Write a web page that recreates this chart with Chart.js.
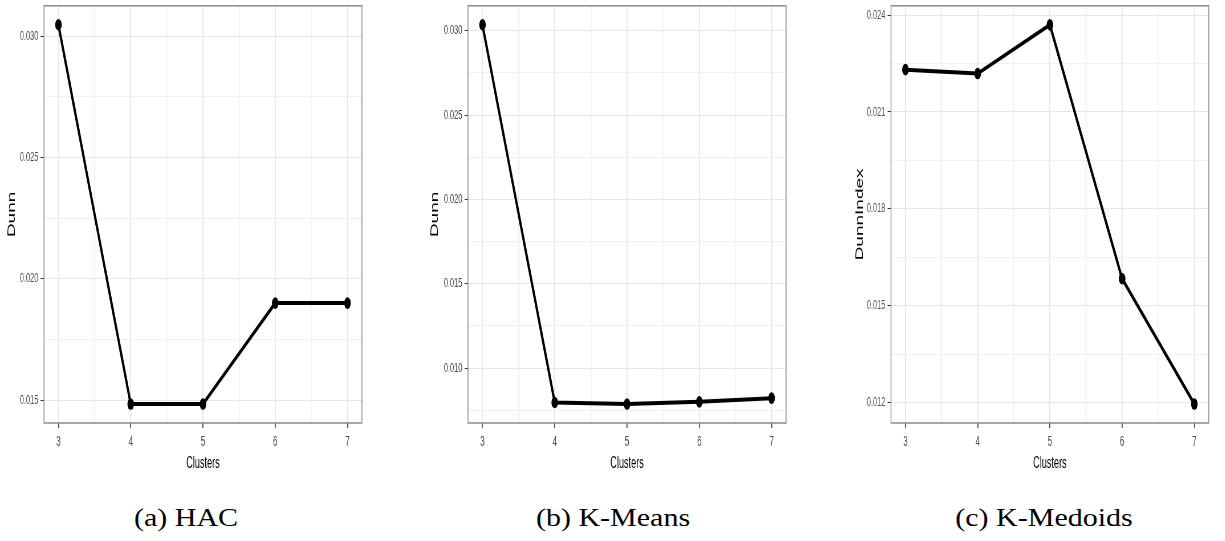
<!DOCTYPE html>
<html>
<head>
<meta charset="utf-8">
<script src="https://cdn.jsdelivr.net/npm/chart.js@4.4.1/dist/chart.umd.min.js"></script>
<style>
  html, body { margin: 0; padding: 0; background: #ffffff; }
  body { width: 1225px; height: 541px; position: relative; overflow: hidden; }
  .panel { position: absolute; top: 0; height: 480px; transform-origin: 0 0; }
  .panel canvas { display: block; }
  .caption {
    position: absolute; top: 504px; white-space: nowrap;
    font-family: "Liberation Serif", "DejaVu Serif", serif; font-size: 25px; color: #000;
    transform: translateX(-50%) scaleX(1.2);
  }
</style>
</head>
<body>
<div class="panel" id="pa"><canvas id="ca"></canvas></div>
<div class="panel" id="pb"><canvas id="cb"></canvas></div>
<div class="panel" id="pc"><canvas id="cc"></canvas></div>
<div class="caption" style="left:186px">(a) HAC</div>
<div class="caption" style="left:613px">(b) K-Means</div>
<div class="caption" style="left:1044px">(c) K-Medoids</div>
<script>
// Number of clusters (x axis)
const categories = [3, 4, 5, 6, 7];
const xMinorTicks = [3.5, 4.5, 5.5, 6.5];

// Dunn index per number of clusters
const hacDunn      = [0.03047, 0.01484, 0.01484, 0.0190, 0.0190];
const kmeansDunn   = [0.03035, 0.00796, 0.00787, 0.0080, 0.00822];
const kmedoidsDunn = [0.02231, 0.02219, 0.0237, 0.01584, 0.01196];

// Y axis breaks (labelled) and the minor breaks between them
const hacYTicks      = [0.015, 0.020, 0.025, 0.030];
const hacYMinor      = [0.0175, 0.0225, 0.0275];
const kmeansYTicks   = [0.010, 0.015, 0.020, 0.025, 0.030];
const kmeansYMinor   = [0.0075, 0.0125, 0.0175, 0.0225, 0.0275];
const kmedoidsYTicks = [0.012, 0.015, 0.018, 0.021, 0.024];
const kmedoidsYMinor = [0.0135, 0.0165, 0.0195, 0.0225];

// Axis titles
const xTitle = 'Clusters';
const hacYTitle = 'Dunn';
const kmeansYTitle = 'Dunn';
const kmedoidsYTitle = 'DunnIndex';

// Panels are drawn wide and squeezed horizontally
const SQUEEZE = 0.57;
const CANVAS_H = 480;
const FONT = '"Liberation Sans", Arial, sans-serif';

// Outline of the plotting panel
const panelBorder = {
  id: 'panelBorder',
  afterDraw(chart) {
    const {ctx, chartArea: a} = chart;
    ctx.save();
    ctx.strokeStyle = '#8a8a8a';
    ctx.lineWidth = 1.5;
    ctx.strokeRect(a.left, a.top, a.right - a.left, a.bottom - a.top);
    ctx.restore();
  }
};

function expand(vals, frac) {
  const lo = Math.min(...vals), hi = Math.max(...vals);
  const pad = (hi - lo) * frac;
  return [lo - pad, hi + pad];
}

function tickList(major, minor) {
  return major.map(v => ({value: v}))
    .concat(minor.map(v => ({value: v, minor: true})))
    .sort((p, q) => p.value - q.value);
}

function makePanel(divId, canvasId, values, yTitle, yMajor, yMinor, left, plotLeft, plotRight, right) {
  const div = document.getElementById(divId);
  const canvas = document.getElementById(canvasId);
  const w = Math.round((right - left) / SQUEEZE);
  div.style.left = left + 'px';
  div.style.width = w + 'px';
  div.style.transform = 'scaleX(' + SQUEEZE + ')';
  canvas.width = w;
  canvas.height = CANVAS_H;
  canvas.style.width = w + 'px';
  canvas.style.height = CANVAS_H + 'px';

  const [yMin, yMax] = expand(values, 0.05);
  const [xMin, xMax] = expand(categories, 0.05);
  const yAxisWidth = (plotLeft - left) / SQUEEZE;
  const rightPad = (right - plotRight) / SQUEEZE;

  const gridColor = c => (c.tick && c.tick.minor) ? '#f0f0f0' : '#e6e6e6';
  const tickColor = c => (c.tick && c.tick.minor) ? 'rgba(0,0,0,0)' : '#333333';

  return new Chart(canvas, {
    type: 'line',
    data: {
      datasets: [{
        data: categories.map((c, i) => ({x: c, y: values[i]})),
        borderColor: '#000000',
        backgroundColor: '#000000',
        borderWidth: 4,
        pointRadius: 5.8,
        pointHoverRadius: 5.8,
        pointBackgroundColor: '#000000',
        pointBorderWidth: 0,
        tension: 0,
        clip: false
      }]
    },
    options: {
      responsive: false,
      animation: false,
      devicePixelRatio: 1,
      layout: {padding: {top: 3, left: 0, right: rightPad, bottom: 0}},
      plugins: {legend: {display: false}, tooltip: {enabled: false}},
      scales: {
        x: {
          type: 'linear', min: xMin, max: xMax,
          afterBuildTicks: s => { s.ticks = tickList(categories, xMinorTicks); },
          afterFit: s => { s.height = CANVAS_H - 423; s.paddingLeft = 0; s.paddingRight = 0; },
          border: {display: false},
          grid: {color: gridColor, lineWidth: 1.8, tickColor: tickColor, tickLength: 5, tickWidth: 1.6},
          ticks: {
            autoSkip: false, maxRotation: 0, padding: 6, color: '#4d4d4d',
            font: {family: FONT, size: 14},
            callback: (v, i, t) => t[i].minor ? '' : String(v)
          },
          title: {display: true, text: xTitle, color: '#000000', padding: {top: 0, bottom: 7},
                  font: {family: FONT, size: 16}}
        },
        y: {
          type: 'linear', min: yMin, max: yMax,
          afterBuildTicks: s => { s.ticks = tickList(yMajor, yMinor); },
          afterFit: s => { s.width = yAxisWidth; s.paddingTop = 0; s.paddingBottom = 0; },
          border: {display: false},
          grid: {color: gridColor, lineWidth: 1, tickColor: tickColor, tickLength: 6, tickWidth: 1},
          ticks: {
            autoSkip: false, padding: 4, color: '#4d4d4d',
            font: {family: FONT, size: 13},
            callback: (v, i, t) => t[i].minor ? '' : v.toFixed(3)
          },
          title: {display: true, text: yTitle, color: '#000000', padding: {top: 9.7, bottom: 0},
                  font: {family: FONT, size: 19}}
        }
      }
    },
    plugins: [panelBorder]
  });
}

makePanel('pa', 'ca', hacDunn, hacYTitle, hacYTicks, hacYMinor, 0, 44, 362, 370);
makePanel('pb', 'cb', kmeansDunn, kmeansYTitle, kmeansYTicks, kmeansYMinor, 423, 468, 786, 794);
makePanel('pc', 'cc', kmedoidsDunn, kmedoidsYTitle, kmedoidsYTicks, kmedoidsYMinor, 848, 891, 1209, 1217);
</script>
</body>
</html>
